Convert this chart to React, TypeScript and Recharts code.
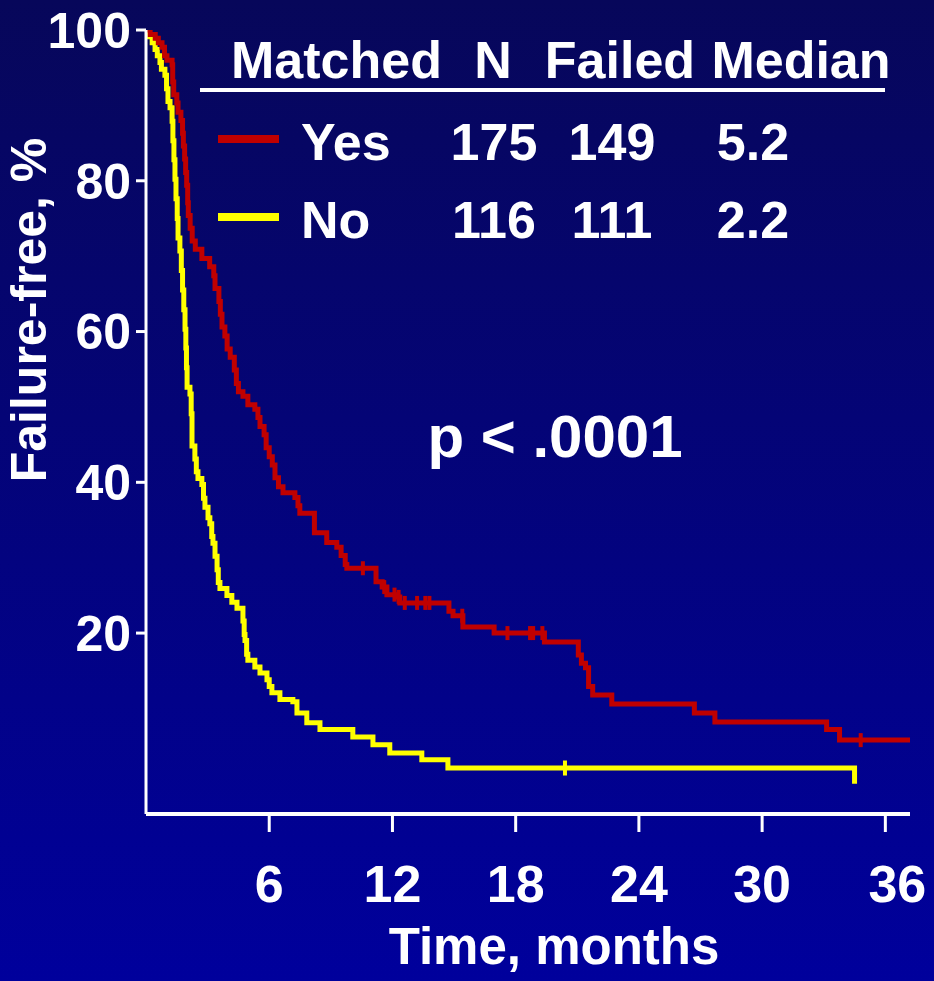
import {
  ComposedChart,
  Line,
  Scatter,
  XAxis,
  YAxis,
} from "recharts";

// Kaplan-Meier steps (months, % failure-free)
const matchedYesTimes = [
  0, 0.2, 0.45, 0.6, 0.78, 0.9, 1.02, 1.27, 1.3, 1.35, 1.5, 1.56, 1.7, 1.78,
  1.82, 1.88, 1.93, 1.98, 2.03, 2.06, 2.15, 2.25, 2.4, 2.72, 3.1, 3.3, 3.36,
  3.55, 3.62, 3.7, 3.84, 3.95, 4.1, 4.3, 4.4, 4.5, 4.72, 4.96, 5.3, 5.45, 5.55,
  5.75, 5.85, 6.0, 6.15, 6.28, 6.45, 6.67, 7.25, 7.4, 7.49, 8.2, 8.8, 9.29,
  9.5, 9.7, 9.78, 11.2, 11.5, 11.73, 12.21, 12.36, 14.75, 14.95, 15.43, 16.95,
  19.4, 21.05, 21.2, 21.4, 21.55, 21.75, 22.68, 26.7, 27.7, 33.14, 33.77, 37.2,
];
const matchedYesSurv = [
  100, 99.4, 98.9, 98.3, 97.7, 96.6, 96.0, 95.4, 93.1, 91.4, 90.3, 89.1, 88.0,
  86.3, 84.6, 82.9, 81.1, 79.4, 77.1, 75.4, 73.7, 72.0, 70.9, 69.7, 68.6, 67.4,
  65.7, 64.0, 62.3, 60.6, 59.4, 57.7, 56.6, 54.9, 53.1, 52.0, 51.4, 50.3, 49.7,
  48.6, 47.4, 46.3, 44.6, 43.4, 42.3, 40.6, 39.4, 38.6, 38.0, 36.9, 35.9, 33.3,
  32.0, 31.4, 30.3, 29.1, 28.6, 26.8, 26.1, 25.1, 24.8, 24.0, 22.9, 22.3, 20.8,
  20.0, 18.8, 17.1, 16.0, 15.4, 12.9, 11.8, 10.6, 9.4, 8.2, 7.2, 5.8, 5.8,
];
const matchedYesCensored = [
  10.56, 11.6, 12.1, 12.3, 12.6, 13.2, 13.6, 13.8, 15.4, 17.6, 18.7, 18.85,
  19.3, 34.8,
];

const matchedNoTimes = [
  0, 0.15, 0.3, 0.44, 0.55, 0.68, 0.75, 0.92, 1.0, 1.07, 1.17, 1.27, 1.31,
  1.36, 1.41, 1.46, 1.52, 1.56, 1.65, 1.72, 1.78, 1.84, 1.9, 1.94, 1.97, 2.0,
  2.14, 2.2, 2.24, 2.38, 2.45, 2.53, 2.72, 2.8, 2.87, 3.02, 3.11, 3.2, 3.26,
  3.36, 3.46, 3.52, 3.6, 3.94, 4.18, 4.43, 4.72, 4.78, 4.82, 4.9, 4.96, 5.3,
  5.55, 5.89, 6.0, 6.13, 6.52, 7.15, 7.35, 7.83, 8.47, 10.07, 11.05, 11.87,
  13.43, 14.7, 34.5,
];
const matchedNoSurv = [
  100, 99.1, 98.3, 97.4, 96.6, 95.7, 94.8, 94.0, 92.2, 90.5, 89.7, 87.9, 85.3,
  82.8, 80.2, 77.6, 75.0, 72.4, 70.7, 68.1, 65.5, 62.9, 60.3, 57.8, 55.2, 52.6,
  51.7, 49.1, 44.8, 43.1, 41.4, 40.5, 39.7, 37.9, 36.7, 35.3, 34.5, 32.8, 31.9,
  30.2, 28.4, 26.7, 25.9, 25.0, 24.1, 23.3, 21.6, 19.8, 19.0, 17.2, 16.4, 15.5,
  14.7, 13.8, 12.9, 12.1, 11.2, 10.9, 9.4, 8.1, 7.2, 6.2, 5.2, 4.1, 3.2, 2.1,
  0,
];
const matchedNoCensored = [20.4];

const xTicks = [6, 12, 18, 24, 30, 36];
const yTicks = [20, 40, 60, 80, 100];

const legendRows = [
  { label: "Yes", n: "175", failed: "149", median: "5.2", color: "#c00000" },
  { label: "No", n: "116", failed: "111", median: "2.2", color: "#ffff00" },
];

const FONT = "'Liberation Sans', Arial, Helvetica, sans-serif";

function toPoints(times: number[], surv: number[]) {
  return times.map((t, i) => ({ t, s: surv[i] }));
}

// survival value in effect at a censoring time
function stepAt(times: number[], surv: number[], t: number) {
  let s = surv[0];
  for (let i = 0; i < times.length; i++) {
    if (times[i] <= t) s = surv[i];
  }
  return s;
}

const yesData = toPoints(matchedYesTimes, matchedYesSurv);
const noData = toPoints(matchedNoTimes, matchedNoSurv);
const yesCensor = matchedYesCensored.map((t) => ({
  t,
  s: stepAt(matchedYesTimes, matchedYesSurv, t),
}));
const noCensor = matchedNoCensored.map((t) => ({
  t,
  s: stepAt(matchedNoTimes, matchedNoSurv, t),
}));

function censorMark(color: string, h: number) {
  return (props: any) => (
    <rect
      x={props.cx - 2}
      y={props.cy - h / 2}
      width={4}
      height={h}
      fill={color}
    />
  );
}

function XTick(props: any) {
  const { x, y, payload } = props;
  const shift = payload.value === 36 ? 12 : 0;
  return (
    <text
      x={x + shift}
      y={y}
      dy="0.71em"
      textAnchor="middle"
      fill="#fff"
      fontSize={52}
      fontWeight="bold"
      fontFamily={FONT}
    >
      {payload.value}
    </text>
  );
}

export default function App() {
  return (
    <div
      style={{
        position: "fixed",
        left: 0,
        top: 0,
        width: 934,
        height: 981,
        background: "linear-gradient(180deg, #07075a 0%, #00009c 100%)",
        overflow: "hidden",
      }}
    >
      <ComposedChart
        width={934}
        height={981}
        margin={{ top: 30, right: 24, bottom: 0, left: 0 }}
      >
        <XAxis
          dataKey="t"
          type="number"
          domain={[0, 37.2]}
          ticks={xTicks}
          allowDataOverflow
          height={167}
          tickSize={18}
          tickMargin={33}
          axisLine={{ stroke: "#fff", strokeWidth: 4 }}
          tickLine={{ stroke: "#fff", strokeWidth: 3 }}
          tick={<XTick />}
        />
        <YAxis
          dataKey="s"
          type="number"
          domain={[-4, 100]}
          ticks={yTicks}
          allowDataOverflow
          width={146}
          tickSize={10}
          tickMargin={5}
          axisLine={{ stroke: "#fff", strokeWidth: 3 }}
          tickLine={{ stroke: "#fff", strokeWidth: 3 }}
          tick={{
            fill: "#fff",
            fontSize: 50,
            fontWeight: "bold",
            fontFamily: FONT,
          }}
        />
        <Line
          data={noData}
          dataKey="s"
          type="stepAfter"
          stroke="#ffff00"
          strokeWidth={5}
          dot={false}
          activeDot={false}
          isAnimationActive={false}
        />
        <Line
          data={yesData}
          dataKey="s"
          type="stepAfter"
          stroke="#c00000"
          strokeWidth={5}
          dot={false}
          activeDot={false}
          isAnimationActive={false}
        />
        <Scatter
          data={noCensor}
          dataKey="s"
          shape={censorMark("#ffff00", 15)}
          isAnimationActive={false}
        />
        <Scatter
          data={yesCensor}
          dataKey="s"
          shape={censorMark("#c00000", 14)}
          isAnimationActive={false}
        />
      </ComposedChart>
      <svg
        width={934}
        height={981}
        style={{ position: "absolute", left: 0, top: 0, pointerEvents: "none" }}
        fontFamily={FONT}
        fontWeight="bold"
        fill="#fff"
      >
        <text x={231} y={78} fontSize={52}>
          Matched
        </text>
        <text x={493} y={78} fontSize={52} textAnchor="middle">
          N
        </text>
        <text x={620} y={78} fontSize={52} textAnchor="middle">
          Failed
        </text>
        <text x={801} y={78} fontSize={52} textAnchor="middle">
          Median
        </text>
        <rect x={200} y={88} width={685} height={4} fill="#fff" />
        {legendRows.map((row, i) => {
          const base = 160 + i * 78;
          return (
            <g key={row.label}>
              <rect x={218} y={base - 25} width={61} height={8} fill={row.color} />
              <text x={301} y={base} fontSize={52}>
                {row.label}
              </text>
              <text x={494} y={base} fontSize={52} textAnchor="middle">
                {row.n}
              </text>
              <text x={612} y={base} fontSize={52} textAnchor="middle">
                {row.failed}
              </text>
              <text x={753} y={base} fontSize={52} textAnchor="middle">
                {row.median}
              </text>
            </g>
          );
        })}
        <text x={555} y={457} fontSize={60} textAnchor="middle">
          p &lt; .0001
        </text>
        <text
          x={46}
          y={310}
          fontSize={50}
          textAnchor="middle"
          transform="rotate(-90 46 310)"
        >
          Failure-free, %
        </text>
        <text x={554} y={964} fontSize={51} textAnchor="middle">
          Time, months
        </text>
      </svg>
    </div>
  );
}
